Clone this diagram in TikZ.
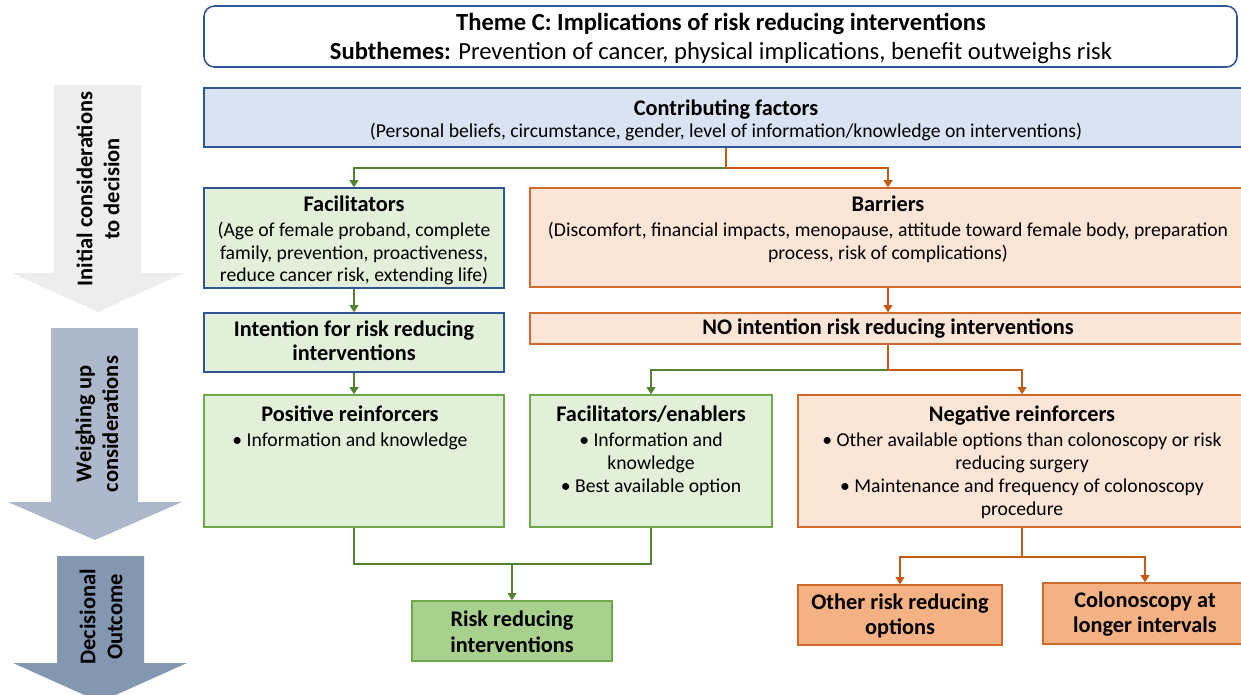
\documentclass[tikz,border=0pt]{standalone}
\usepackage{fontspec}
\setmainfont{Carlito}
\usetikzlibrary{arrows.meta,fit}

\definecolor{bordblue}{HTML}{2F5597}
\definecolor{lblue}{HTML}{DAE3F3}
\definecolor{lgreen}{HTML}{E2F0D9}
\definecolor{mgreen}{HTML}{A9D18E}
\definecolor{bgreen}{HTML}{6FA84A}
\definecolor{dgreen}{HTML}{548235}
\definecolor{lorange}{HTML}{FBE5D6}
\definecolor{morange}{HTML}{F4B183}
\definecolor{borange}{HTML}{D06A2C}
\definecolor{dorange}{HTML}{C55A11}
\definecolor{stageone}{HTML}{EDEDED}
\definecolor{stagetwo}{HTML}{ADB9CA}
\definecolor{stagethree}{HTML}{8497B0}

\newcommand{\hd}[1]{{\fontsize{12.7}{13.6}\selectfont\bfseries #1}}

\begin{document}
\begin{tikzpicture}[x=0.02cm, y=-0.02cm,
    box/.style={inner sep=0pt, line width=0.9pt},
    bbox/.style={box, draw=bordblue, fill=lgreen},
    gbox/.style={box, draw=bgreen, fill=lgreen},
    obox/.style={box, draw=borange, fill=lorange},
    outg/.style={box, draw=bgreen, fill=mgreen},
    outo/.style={box, draw=borange, fill=morange},
    txt/.style={inner sep=0pt, align=center, font=\fontsize{11.2}{13}\selectfont},
    hdtxt/.style={inner sep=0pt, align=center, font=\fontsize{12.7}{13.6}\selectfont\bfseries},
    bigtxt/.style={inner sep=0pt, align=center, font=\fontsize{12.7}{14.7}\selectfont\bfseries},
    stagetxt/.style={align=center, font=\fontsize{12.8}{15.3}\selectfont\bfseries},
    gline/.style={draw=dgreen, line width=0.9pt},
    oline/.style={draw=dorange, line width=0.9pt},
    garrow/.style={gline, -{Triangle[length=4pt,width=5pt]}},
    oarrow/.style={oline, -{Triangle[length=4pt,width=5pt]}}]

    \useasboundingbox (0,0) rectangle (1241,694);
    \clip (0,0) rectangle (1241,694);

    % stage arrows on the left
    \fill[stageone] (54,85) -- (141,85) -- (141,273) -- (184,273) -- (98,312) -- (12,273) -- (54,273) -- cycle;
    \fill[stagetwo] (51,328) -- (138,328) -- (138,502) -- (182,502) -- (95,540) -- (8,502) -- (51,502) -- cycle;
    \fill[stagethree] (57,556) -- (144,556) -- (144,663) -- (187,663) -- (100,702) -- (13,663) -- (57,663) -- cycle;
    \node[stagetxt, rotate=90] (s1) at (98,189) {Initial considerations\\to decision};
    \node[stagetxt, rotate=90] (s2) at (97,424) {Weighing up\\considerations};
    \node[stagetxt, rotate=90] (s3) at (101,617) {Decisional\\Outcome};

    % theme and contributing factors
    \node[box, draw=bordblue, fill=white, rounded corners=6pt, fit={(204,6) (1237,67)}] (theme) {};
    \node[inner sep=0pt, align=center, font=\fontsize{14}{16.5}\selectfont] (theme-t) at (721,38)
        {\textbf{Theme C: Implications of risk reducing interventions}\\
         \textbf{Subthemes:} Prevention of cancer, physical implications, benefit outweighs risk};
    \node[box, draw=bordblue, fill=lblue, fit={(204,88) (1248,147)}] (con) {};
    \node[txt, font=\fontsize{11.2}{12.5}\selectfont] (con-t) at (726,120.5)
        {\hd{Contributing factors}\\
         (Personal beliefs, circumstance, gender, level of information/knowledge on interventions)};

    % first row
    \node[bbox, fit={(204,188) (504,288)}] (fac) {};
    \node[txt] (fac-t) at (354,240.5)
        {\hd{Facilitators}\\[1.2pt](Age of female proband, complete\\family, prevention, proactiveness,\\reduce cancer risk, extending life)};
    \node[obox, fit={(530,188) (1246,287)}] (bar) {};
    \node[txt] (bar-t) at (888,229)
        {\hd{Barriers}\\[1.2pt](Discomfort, financial impacts, menopause, attitude toward female body, preparation\\process, risk of complications)};

    % intentions
    \node[bbox, fit={(204,313) (504,372)}] (int) {};
    \node[hdtxt] (int-t) at (354,341) {Intention for risk reducing\\interventions};
    \node[obox, fit={(530,313) (1246,344)}] (noint) {};
    \node[hdtxt] (noint-t) at (888,329) {NO intention risk reducing interventions};

    % reinforcers
    \node[gbox, fit={(204,395) (504,527)}] (pos) {};
    \node[txt] (pos-t) at (350,428) {\hd{Positive reinforcers}\\[1.2pt]• Information and knowledge};
    \node[gbox, fit={(530,395) (772,527)}] (fe) {};
    \node[txt] (fe-t) at (651,451)
        {\hd{Facilitators/enablers}\\[1.2pt]• Information and\\knowledge\\• Best available option};
    \node[obox, fit={(798,395) (1246,527)}] (neg) {};
    \node[txt] (neg-t) at (1022,462)
        {\hd{Negative reinforcers}\\[1.2pt]• Other available options than colonoscopy or risk\\reducing surgery\\• Maintenance and frequency of colonoscopy\\procedure};

    % outcomes
    \node[outg, fit={(412,601) (612,661)}] (risk) {};
    \node[bigtxt] (risk-t) at (512,632) {Risk reducing\\interventions};
    \node[outo, fit={(798,585) (1002,645)}] (other) {};
    \node[bigtxt] (other-t) at (900,616) {Other risk reducing\\options};
    \node[outo, fit={(1043,583) (1247,644)}] (colo) {};
    \node[bigtxt] (colo-t) at (1145,614) {Colonoscopy at\\longer intervals};

    % connectors
    \coordinate (c1) at (con.south |- 0,168);
    \draw[oline] (con.south) -- (c1);
    \draw[garrow] (c1) -| (fac.north);
    \draw[oarrow] (c1) -| (bar.north);
    \draw[garrow] (fac) -- (int);
    \draw[oarrow] (bar) -- (noint);

    \coordinate (c2) at (noint.south |- 0,370);
    \draw[oline] (noint.south) -- (c2);
    \draw[garrow] (c2) -| (fe.north);
    \draw[oarrow] (c2) -| (neg.north);
    \draw[garrow] (int) -- (pos);

    \coordinate (c3) at (risk.north |- 0,564);
    \draw[gline] (pos.south) |- (c3) -| (fe.south);
    \draw[garrow] (c3) -- (risk.north);

    \coordinate (c4) at (neg.south |- 0,557);
    \draw[oline] (neg.south) -- (c4);
    \draw[oarrow] (c4) -| (other.north);
    \draw[oarrow] (c4) -| (colo.north);
\end{tikzpicture}
\end{document}
